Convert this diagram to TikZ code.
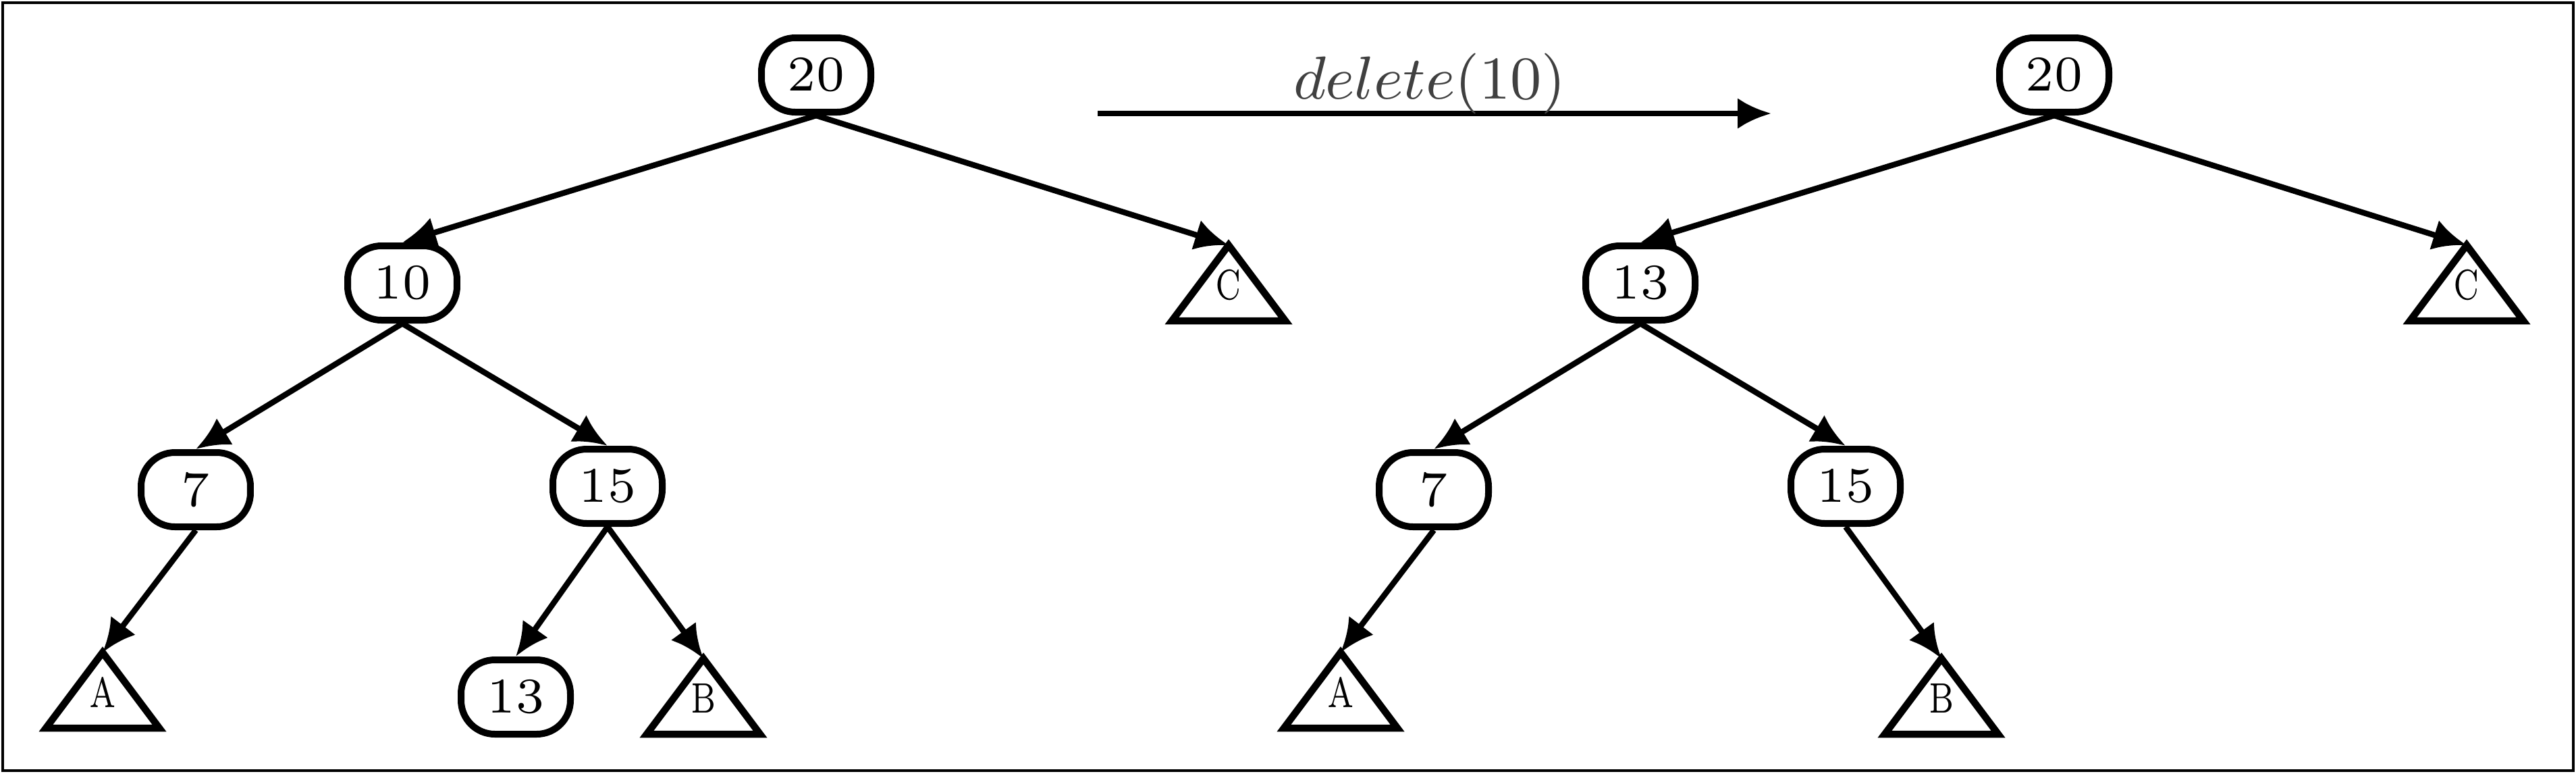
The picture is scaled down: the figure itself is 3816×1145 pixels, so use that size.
\documentclass[tikz,border=0pt]{standalone}
\usepackage{graphicx}
\usetikzlibrary{arrows.meta}
\begin{document}
\begin{tikzpicture}[x=0.1pt,y=-0.1pt,
  keynode/.style={draw, line width=1pt, rounded corners=5pt, minimum width=16.2pt, minimum height=11pt, inner sep=0pt, font=\fontsize{7.4}{8}\selectfont},
  subtree/.style={draw, line width=1.05pt, line join=miter},
  edge/.style={line width=0.85pt, -{Latex[length=5pt,width=4.6pt]}},
  lbl/.style={inner sep=0pt, font=\fontsize{6.3}{7}\selectfont},
  frame/.style={draw, line width=0.35pt}
]
\useasboundingbox (0,0) rectangle (3816,1145);
\draw[frame] (4,4) rectangle (3812,1141);

% ---------- left tree ----------
\node[keynode] (L20) at (1209,111) {20};
\node[keynode] (L10) at (596,419) {10};
\node[keynode] (L7) at (290,725) {7};
\node[keynode] (L15) at (900,720) {15};
\node[keynode] (L13) at (764,1032) {13};
\coordinate (LCt) at (1820,363);
\coordinate (LAt) at (152,966);
\coordinate (LBt) at (1042,975);
\draw[subtree] (LCt) -- ++(-84,112) -- ++(168,0) -- cycle;
\draw[subtree] (LAt) -- ++(-84,112) -- ++(168,0) -- cycle;
\draw[subtree] (LBt) -- ++(-84,112) -- ++(168,0) -- cycle;
\node[lbl] (LC) at (1820,422) {\scalebox{0.7}[1]{C}};
\node[lbl] (LA) at (152,1025) {\scalebox{0.7}[1]{A}};
\node[lbl] (LB) at (1042,1034) {\scalebox{0.7}[1]{B}};
\draw[edge] (L20.south) -- (L10.north);
\draw[edge] (L20.south) -- (LCt);
\draw[edge] (L10.south) -- (L7.north);
\draw[edge] (L10.south) -- (L15.north);
\draw[edge] (L7.south) -- (LAt);
\draw[edge] (L15.south) -- (L13.north);
\draw[edge] (L15.south) -- (LBt);

% ---------- operation arrow ----------
\coordinate (AS) at (1626,168);
\coordinate (AE) at (2624,168);
\draw[edge] (AS) -- (AE);
\node[anchor=base, inner sep=0pt, text=black!75, font=\fontsize{9.5}{11}\selectfont] (op) at (2118,146) {$delete(10)$};

% ---------- right tree ----------
\node[keynode] (R20) at (3043,111) {20};
\node[keynode] (R13) at (2430,419) {13};
\node[keynode] (R7) at (2124,725) {7};
\node[keynode] (R15) at (2734,720) {15};
\coordinate (RCt) at (3654,363);
\coordinate (RAt) at (1986,966);
\coordinate (RBt) at (2876,975);
\draw[subtree] (RCt) -- ++(-84,112) -- ++(168,0) -- cycle;
\draw[subtree] (RAt) -- ++(-84,112) -- ++(168,0) -- cycle;
\draw[subtree] (RBt) -- ++(-84,112) -- ++(168,0) -- cycle;
\node[lbl] (RC) at (3654,422) {\scalebox{0.7}[1]{C}};
\node[lbl] (RA) at (1986,1025) {\scalebox{0.7}[1]{A}};
\node[lbl] (RB) at (2876,1034) {\scalebox{0.7}[1]{B}};
\draw[edge] (R20.south) -- (R13.north);
\draw[edge] (R20.south) -- (RCt);
\draw[edge] (R13.south) -- (R7.north);
\draw[edge] (R13.south) -- (R15.north);
\draw[edge] (R7.south) -- (RAt);
\draw[edge] (R15.south) -- (RBt);
\end{tikzpicture}
\end{document}
